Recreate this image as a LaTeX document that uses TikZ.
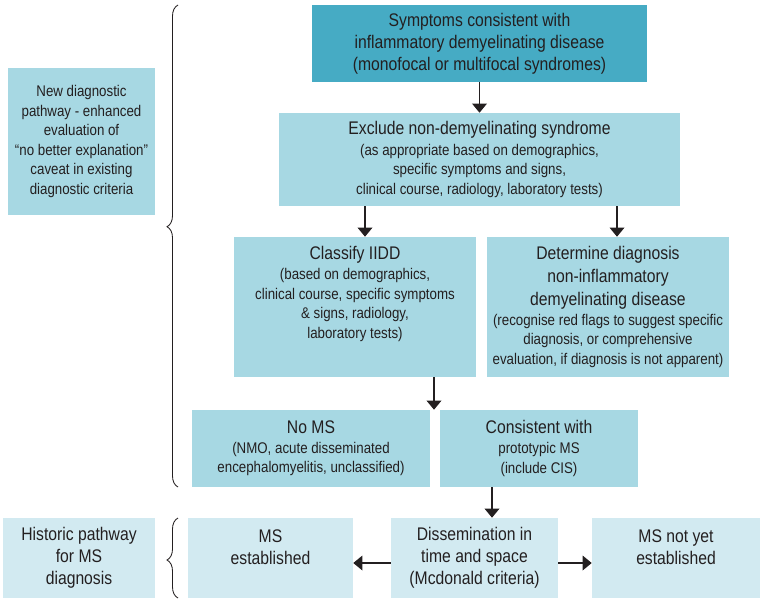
\documentclass[tikz,border=0pt]{standalone}
\usepackage{fontspec}
\setmainfont{Liberation Sans}[FakeStretch=0.86]
\usetikzlibrary{arrows.meta,decorations.pathreplacing}
\definecolor{darkteal}{HTML}{46ABC4}
\definecolor{midblue}{HTML}{A7D8E3}
\definecolor{paleblue}{HTML}{D2EAF1}
\definecolor{inkgray}{HTML}{231F20}
\newcommand{\bigtxt}{\fontsize{13}{15.6}\selectfont}
\newcommand{\smalltxt}{\fontsize{11}{13.9}\selectfont}
\begin{document}
\begin{tikzpicture}[
    box/.style={fill=midblue, text=inkgray, align=center, inner sep=0pt, font=\bigtxt},
    mixbox/.style={box, font=\smalltxt},
    topbox/.style={box, fill=darkteal},
    histbox/.style={box, fill=paleblue},
    arr/.style={-{Triangle[width=10.5pt,length=6.5pt]}, line width=0.8pt, draw=inkgray},
    bracket/.style={decorate, line width=0.6pt, draw=inkgray}]
    \useasboundingbox (0,0) rectangle (19,-14.95);
    \node[topbox, minimum width=8.375cm, minimum height=1.925cm] (symptoms) at (11.9875,-1.0875)
        {Symptoms consistent with\\inflammatory demyelinating disease\\(monofocal or multifocal syndromes)};
    \node[mixbox, minimum width=10.025cm, minimum height=2.325cm] (exclude) at (11.9875,-3.9875)
        {\bigtxt Exclude non-demyelinating syndrome\\[1pt](as appropriate based on demographics,\\specific symptoms and signs,\\clinical course, radiology, laboratory tests)};
    \node[mixbox, minimum width=6.05cm, minimum height=3.5cm] (classify) at (8.875,-7.675)
        {\bigtxt Classify IIDD\\(based on demographics,\\clinical course, specific symptoms\\\& signs, radiology,\\laboratory tests)\\[6.8pt]~};
    \node[mixbox, minimum width=6.05cm, minimum height=3.5cm] (determine) at (15.2,-7.675)
        {\bigtxt Determine diagnosis\\[2.5pt]\bigtxt non-inflammatory\\[2.5pt]\bigtxt demyelinating disease\\(recognise red flags to suggest specific\\diagnosis, or comprehensive\\evaluation, if diagnosis is not apparent)};
    \node[mixbox, minimum width=5.95cm, minimum height=1.925cm] (noms) at (7.775,-11.2125)
        {\bigtxt No MS\\(NMO, acute disseminated\\encephalomyelitis, unclassified)};
    \node[mixbox, minimum width=4.95cm, minimum height=1.925cm] (consistent) at (13.475,-11.2125)
        {\bigtxt Consistent with\\prototypic MS\\(include CIS)};
    \node[mixbox, minimum width=3.675cm, minimum height=3.675cm] (newpath) at (2.0375,-3.5375)
        {New diagnostic\\pathway - enhanced\\evaluation of\\“no better explanation”\\caveat in existing\\diagnostic criteria};
    \node[histbox, minimum width=3.8cm, minimum height=2cm] (historic) at (1.975,-13.95)
        {Historic pathway\\for MS\\diagnosis};
    \node[histbox, minimum width=4.125cm, minimum height=2cm] (msest) at (6.7625,-13.95)
        {MS\\established\\~};
    \node[histbox, minimum width=4.175cm, minimum height=2cm] (dissem) at (11.8625,-13.95)
        {Dissemination in\\time and space\\(Mcdonald criteria)};
    \node[histbox, minimum width=4.2cm, minimum height=2cm] (msnot) at (16.9,-13.95)
        {MS not yet\\established\\~};
    \draw[arr] (symptoms) -- (exclude);
    \draw[arr] (exclude.south -| 9.125,0) -- (classify.north -| 9.125,0);
    \draw[arr] (exclude.south -| 15.425,0) -- (determine.north -| 15.425,0);
    \draw[arr] (classify.south -| 10.85,0) -- (noms.north -| 10.85,0);
    \draw[arr] (consistent.south -| 12.3,0) -- (dissem.north -| 12.3,0);
    \draw[arr] (dissem.west |- 0,-14.075) -- (msest.east |- 0,-14.075);
    \draw[arr] (dissem.east |- 0,-14.075) -- (msnot.west |- 0,-14.075);
    \coordinate (bigtop) at (4.45,-0.125);
    \coordinate (bigbot) at (4.45,-12.175);
    \coordinate (smalltop) at (4.45,-12.95);
    \coordinate (smallbot) at (4.45,-14.95);
    \draw[bracket, decoration={brace, amplitude=0.275cm, aspect=0.54}] (bigbot) -- (bigtop);
    \draw[bracket, decoration={brace, amplitude=0.275cm, aspect=0.475}] (smallbot) -- (smalltop);
\end{tikzpicture}
\end{document}
